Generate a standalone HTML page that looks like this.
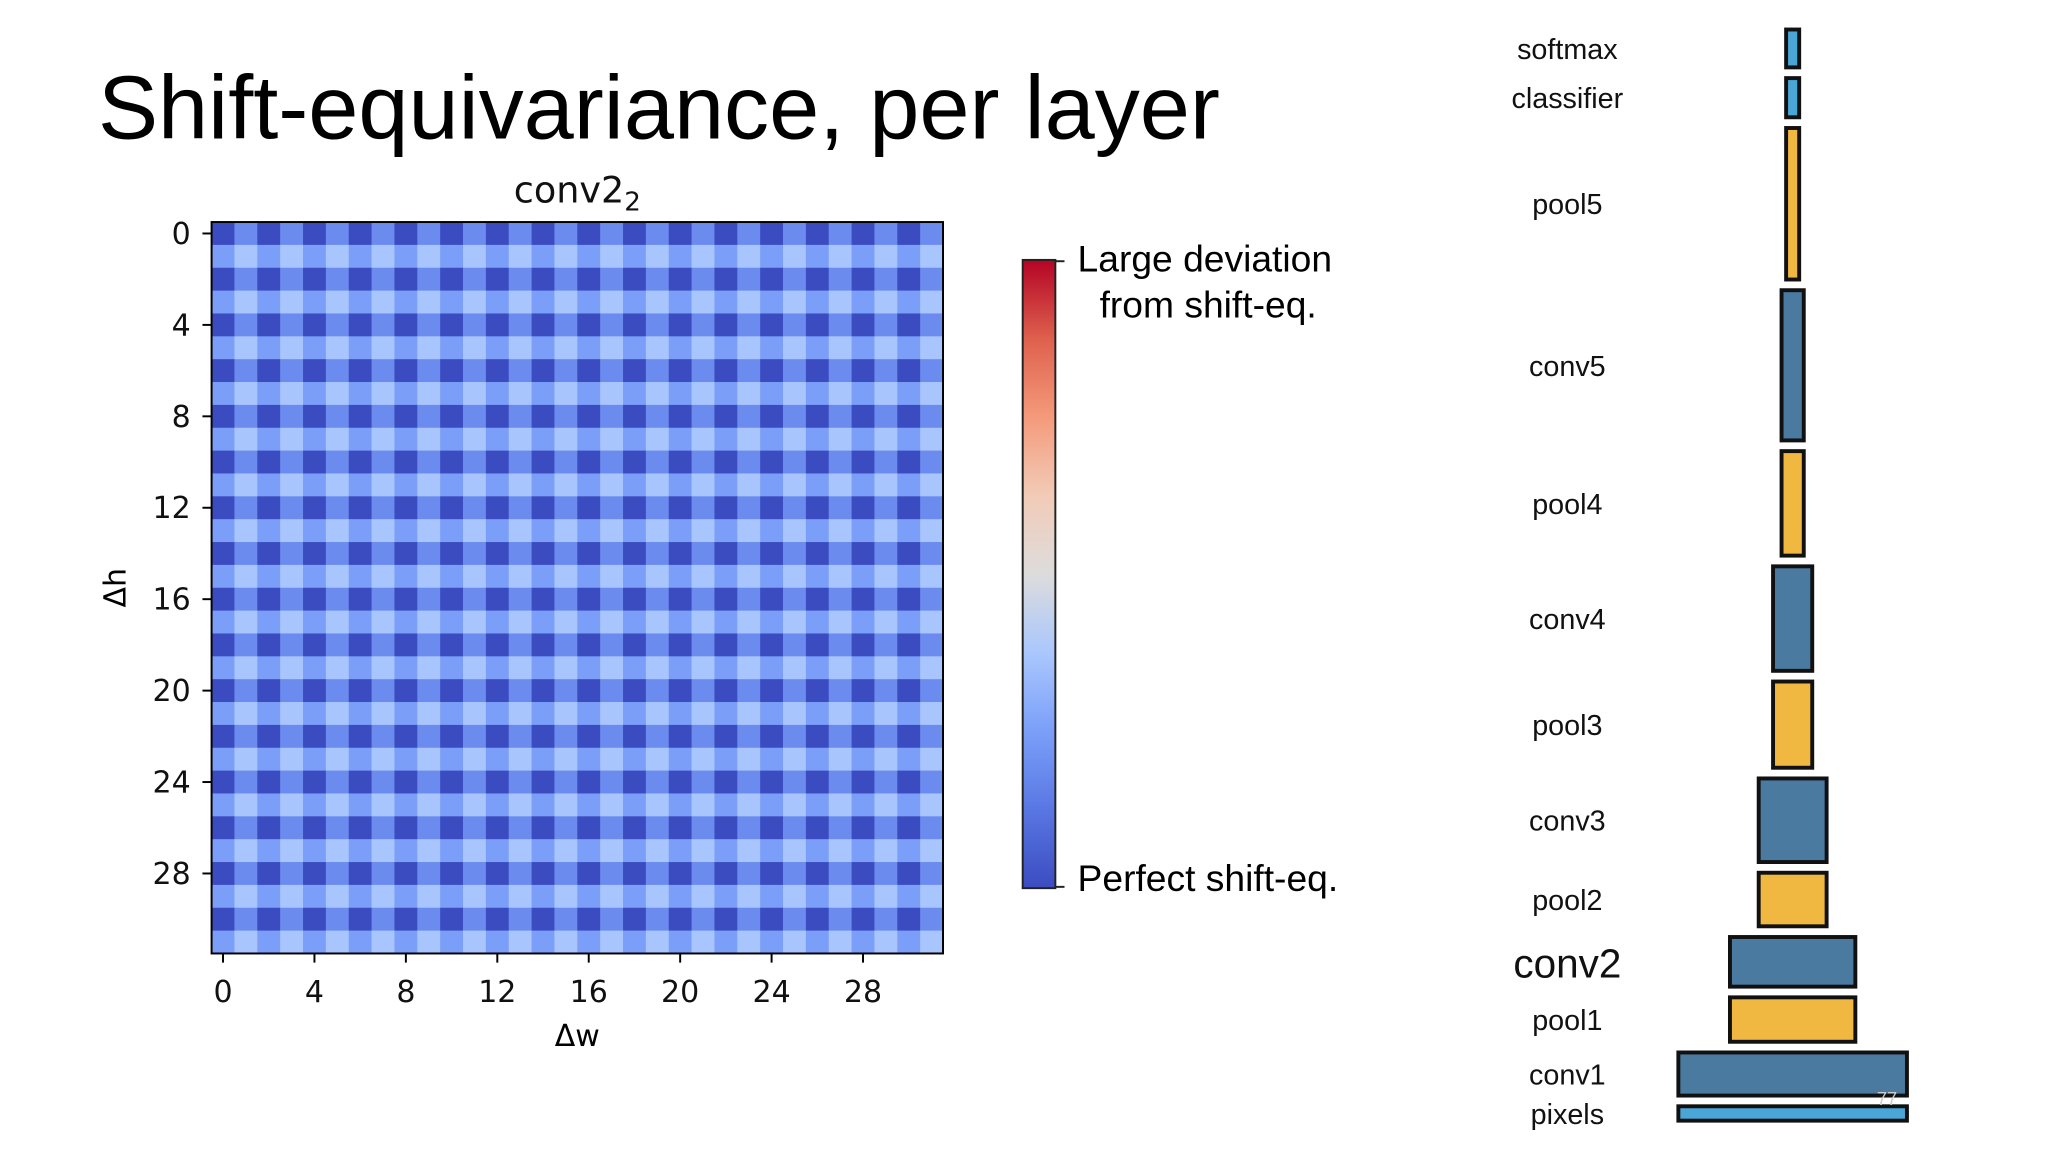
<!DOCTYPE html>
<html><head><meta charset="utf-8"><style>
html,body{margin:0;padding:0;background:#fff}
svg{display:block;font-family:"Liberation Sans","DejaVu Sans",sans-serif}
</style></head><body>
<svg id="s" width="2048" height="1152" viewBox="0 0 1568 882">
<defs><linearGradient id="cw" x1="0" y1="1" x2="0" y2="0">
<stop offset="0" stop-color="#3b4cc0"/><stop offset="0.125" stop-color="#5977e3"/><stop offset="0.25" stop-color="#7b9ff9"/><stop offset="0.375" stop-color="#aac7fd"/><stop offset="0.5" stop-color="#dddcdc"/><stop offset="0.625" stop-color="#f2cbb7"/><stop offset="0.75" stop-color="#f49a7b"/><stop offset="0.875" stop-color="#de604d"/><stop offset="1" stop-color="#b40426"/></linearGradient></defs>
<text x="75" y="106" font-size="69" fill="#000">Shift-equivariance, per layer</text>
<text x="442" y="155" font-size="28" text-anchor="middle" fill="#111" font-family="DejaVu Sans, sans-serif">conv2<tspan font-size="20" dy="6">2</tspan></text>
<g id="hm"></g>
<rect x="162" y="170" width="560" height="560" fill="none" stroke="#000" stroke-width="1.5"/>
<g id="ax" font-family="DejaVu Sans, sans-serif" font-size="23" fill="#111"></g>
<text x="442" y="801" font-size="23" text-anchor="middle" font-family="DejaVu Sans, sans-serif">Δw</text>
<text transform="translate(96,450) rotate(-90)" font-size="23" text-anchor="middle" font-family="DejaVu Sans, sans-serif">Δh</text>
<rect x="783" y="199" width="25" height="481" fill="url(#cw)" stroke="#222" stroke-width="1.5"/>
<line x1="808" y1="200" x2="815" y2="200" stroke="#222" stroke-width="1.5"/>
<line x1="808" y1="679" x2="815" y2="679" stroke="#222" stroke-width="1.5"/>
<text x="825" y="208" font-size="28.5">Large deviation</text>
<text x="925" y="243" font-size="28.5" text-anchor="middle">from shift-eq.</text>
<text x="825" y="682" font-size="28.5">Perfect shift-eq.</text>
<g id="tower"></g>
<text x="1437" y="846" font-size="14" fill="#ccc">77</text>
</svg>
<script>
const hmRows = [];
const rowA = "01010101010101010101010101010101";
const rowB = "23232323232323232323232323232323";
for (let i = 0; i < 16; i++) { hmRows.push(rowA); hmRows.push(rowB); }
const levels = [0.0, 0.19, 0.25, 0.37];
const xTicks = [0, 4, 8, 12, 16, 20, 24, 28];
const yTicks = [0, 4, 8, 12, 16, 20, 24, 28];
const layerNames = ["softmax","classifier","pool5","conv5","pool4","conv4","pool3","conv3","pool2","conv2","pool1","conv1","pixels"];
const layerWidths = [10,10,10,17,17,30,30,52,52,96,96,175,175];
const layerHeights = [29,30,116,115,80,80,66,64,41,38,34,33,11];
const layerKinds = ["fc","fc","pool","conv","pool","conv","pool","conv","pool","conv","pool","conv","fc"];

const NS = "http://www.w3.org/2000/svg";
const X0 = 162, Y0 = 170, SZ = 560, N = 32, C = SZ / N;
const sx = i => X0 + i * C, sy = j => Y0 + j * C;
const stops = [[0,[59,76,192]],[0.125,[89,119,227]],[0.25,[123,159,249]],[0.375,[170,199,253]],[0.5,[221,220,220]],[0.625,[242,203,183]],[0.75,[244,154,123]],[0.875,[222,96,77]],[1,[180,4,38]]];
function cmap(v){for(let k=1;k<stops.length;k++){if(v<=stops[k][0]){const a=stops[k-1],b=stops[k],t=(v-a[0])/(b[0]-a[0]);return "rgb("+a[1].map((c,i)=>Math.round(c+(b[1][i]-c)*t)).join(",")+")";}}return "rgb(180,4,38)";}
function mk(tag, attrs, parent){const e=document.createElementNS(NS,tag);for(const k in attrs)e.setAttribute(k,attrs[k]);parent.appendChild(e);return e;}
const hm = document.getElementById("hm");
hmRows.forEach((row, j) => {
  for (let i = 0; i < row.length; i++) {
    const r = mk("rect", {x: sx(i), y: sy(j), width: C + 0.3, height: C + 0.3, fill: cmap(levels[+row[i]])}, hm);
    
    
  }
});
const ax = document.getElementById("ax");
xTicks.forEach(t => {
  const x = sx(t) + C / 2;
  mk("line", {x1: x, y1: 730, x2: x, y2: 737, stroke: "#000", "stroke-width": 1.5}, ax);
  const tx = mk("text", {x: x, y: 767, "text-anchor": "middle"}, ax);
  tx.textContent = t;
  
  
});
yTicks.forEach(t => {
  const y = sy(t) + C / 2;
  mk("line", {x1: 155, y1: y, x2: 162, y2: y, stroke: "#000", "stroke-width": 1.5}, ax);
  const ty = mk("text", {x: 146, y: y + 8, "text-anchor": "end"}, ax);
  ty.textContent = t;
  
  
});
const tower = document.getElementById("tower");
const colors = {fc: "#4aa6d6", pool: "#f0b840", conv: "#4a7aa0"};
let yb = 858;
for (let k = layerNames.length - 1; k >= 0; k--) {
  const h = layerHeights[k], w = layerWidths[k], y = yb - h;
  const r = mk("rect", {x: 1372.5 - w / 2, y: y, width: w, height: h, fill: colors[layerKinds[k]], stroke: "#111", "stroke-width": 3}, tower);
  
  
  const big = layerNames[k] === "conv2";
  const tl = mk("text", {x: 1200, y: y + h / 2 + (big ? 12 : 8), "text-anchor": "middle", "font-size": big ? 31 : 22, fill: "#111"}, tower);
  tl.textContent = layerNames[k];
  
  
  yb = y - 8.2;
}
</script>
</body></html>
